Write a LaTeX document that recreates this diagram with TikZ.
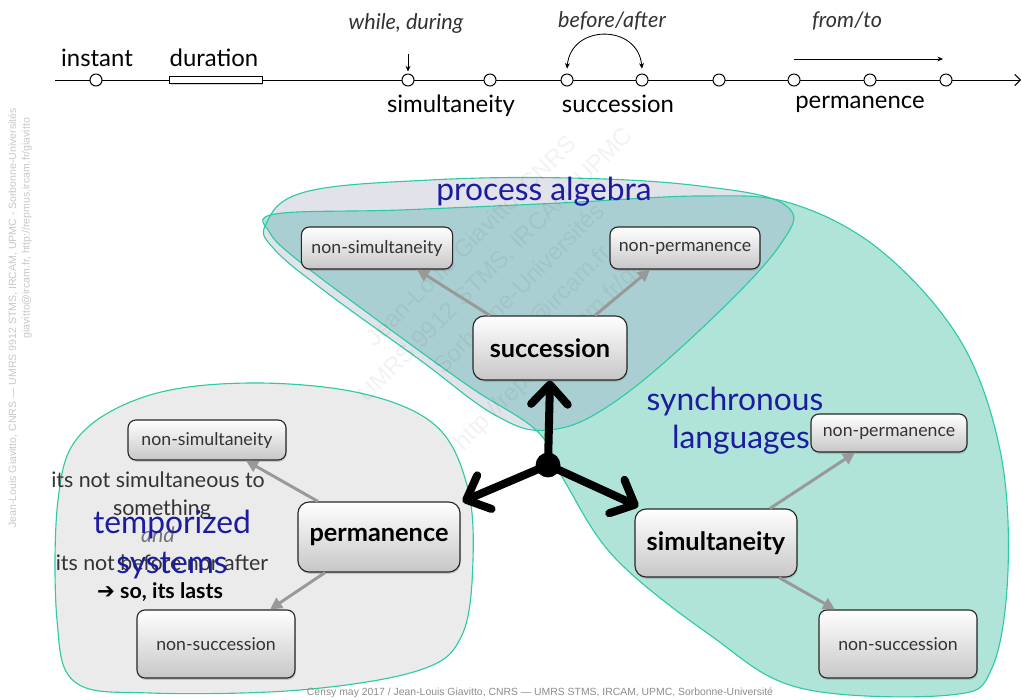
\documentclass[tikz,border=0pt]{standalone}
\usepackage{fontspec}
\setmainfont{Lato}
\newfontfamily\symfont{DejaVu Sans}
\newfontfamily\markfont{Liberation Sans}
\usetikzlibrary{arrows.meta,shadows}

\definecolor{blobline}{HTML}{2CCBA6}
\definecolor{pagray}{HTML}{E2E3EA}
\definecolor{synteal}{HTML}{B0E4D8}
\definecolor{overlap}{HTML}{AACFD2}
\definecolor{tempgray}{HTML}{EBEBEB}
\definecolor{labelblue}{HTML}{1C1CA0}
\definecolor{txt}{HTML}{333333}
\definecolor{arrgray}{HTML}{999999}

\tikzset{
  tick/.style={circle, draw, fill=white, line width=0.7pt, minimum size=0.3cm, inner sep=0pt},
  box/.style={draw=black!85, line width=0.8pt, rounded corners=0.2cm, top color=white,
    bottom color=black!22, text=txt, inner sep=0pt,
    drop shadow={opacity=0.35, shadow xshift=0.5pt, shadow yshift=-1.3pt}},
  minorbox/.style={box, font=\fontsize{12.6}{14}\selectfont},
  majorbox/.style={box, rounded corners=0.28cm, text=black, font=\bfseries\fontsize{18}{20}\selectfont},
  minorarrow/.style={draw=arrgray, line width=2.1pt, -{Triangle[length=8.5pt,width=8.5pt]}},
  mainarrow/.style={line width=5.7pt, -{Straight Barb[length=14pt,width=26pt,round]}},
  timelabel/.style={anchor=base, font=\fontsize{17}{20}\selectfont},
  relation/.style={anchor=base, text=txt, font=\itshape\fontsize{15.4}{18}\selectfont},
  family/.style={anchor=base, text=labelblue, font=\fontsize{22.6}{26}\selectfont},
  remark/.style={anchor=base, text=txt, font=\fontsize{15.2}{18}\selectfont},
  blob/.style={draw=blobline, line width=0.8pt}
}

\begin{document}
\begin{tikzpicture}[x=0.025cm, y=-0.025cm]
\useasboundingbox (0,0) rectangle (1022,699);

% regions
\path[save path=\tempblob] plot[smooth cycle, tension=0.6] coordinates {(58,500) (80,435) (150,395) (250,383) (360,393) (435,425) (467,485) (473,560) (462,635) (420,670) (300,690) (150,693) (75,682) (57,620)};
\path[save path=\pablob] plot[smooth cycle, tension=0.65] coordinates {(266,224) (305,192) (430,180) (570,178) (700,186) (785,205) (780,245) (700,330) (610,405) (548,430) (495,415) (420,360) (330,295) (275,250)};
\path[save path=\synblob] plot[smooth cycle, tension=0.6] coordinates {(275,214) (400,210) (560,203) (700,196) (790,203) (880,250) (960,340) (1000,450) (1008,570) (992,668) (950,695) (800,688) (710,635) (615,558) (565,482) (538,432) (470,387) (380,322) (300,262) (270,233)};

\fill[tempgray, use path=\tempblob];
\draw[blob, use path=\tempblob];
\fill[pagray, use path=\pablob];
\fill[synteal, use path=\synblob];
\begin{scope}
  \clip[use path=\pablob];
  \fill[overlap, use path=\synblob];
\end{scope}
\draw[blob, use path=\pablob];
\draw[blob, use path=\synblob];

% watermarks
\node[rotate=45, align=center, text=black, text opacity=0.05, font=\markfont\fontsize{17}{24}\selectfont] (wm) at (520,290)
  {Jean-Louis Giavitto, CNRS\\ UMRS 9912 STMS, IRCAM, UPMC\\ Sorbonne-Universités\\ giavitto@ircam.fr\\ http://repmus.ircam.fr/giavitto};
\node[rotate=90, anchor=east, text=black!22, font=\markfont\fontsize{7.5}{9}\selectfont] (wm1) at (13,103)
  {Jean-Louis Giavitto, CNRS — UMRS 9912 STMS, IRCAM, UPMC - Sorbonne-Universités};
\node[rotate=90, anchor=east, text=black!22, font=\markfont\fontsize{7.5}{9}\selectfont] (wm2) at (27,113)
  {giavitto@ircam.fr, http://repmus.ircam.fr/giavitto};
\node[anchor=base, text=black!45, font=\markfont\fontsize{7.4}{9}\selectfont] (foot) at (540,695)
  {Cerisy may 2017 / Jean-Louis Giavitto, CNRS — UMRS STMS, IRCAM, UPMC, Sorbonne-Université};

% time line
\coordinate (tl) at (55,80);
\coordinate (tr) at (1021,80);
\draw[line width=0.7pt, -{Straight Barb[length=4pt,width=8pt]}] (tl) -- (tr);
\foreach \x [count=\i] in {96,408,490,567,642,719,794,870,946}
  \node[tick] (t\i) at (\x,80) {};
\node[draw, fill=white, line width=0.7pt, minimum width=2.3cm, minimum height=0.175cm, inner sep=0pt,
  drop shadow={opacity=0.35, shadow xshift=0.5pt, shadow yshift=-1.2pt}] (dur) at (216,80) {};

\node[timelabel] (instant) at (97,66) {instant};
\node[timelabel] (duration) at (214,66) {duration};
\node[timelabel] (simlab) at (451,112) {simultaneity};
\node[timelabel] (suclab) at (618,112) {succession};
\node[timelabel] (perlab) at (860,108) {permanence};
\node[relation] (while) at (406,29) {while, during};
\node[relation] (before) at (612,27) {before/after};
\node[relation] (fromto) at (847,27) {from/to};

\draw[line width=0.6pt, -{Stealth[length=4pt,width=3.5pt]}] ([yshift=0.5cm]t2.north) -- ([yshift=0.05cm]t2.north);
\draw[line width=0.6pt, {Stealth[length=4pt,width=3.5pt]}-{Stealth[length=4pt,width=3.5pt]}]
  ([yshift=0.12cm]t4.north) .. controls +(4,-45) and +(-4,-45) .. ([yshift=0.12cm]t5.north);
\draw[line width=0.6pt, -{Stealth[length=4pt,width=3.5pt]}] ([yshift=0.525cm]t7.center) -- ([yshift=0.525cm,xshift=-0.075cm]t9.center);

% family labels
\node[family] (pa) at (544,200) {process algebra};
\node[family] (sl1) at (735,410) {synchronous};
\node[family] (sl2) at (741,448) {languages};

% remarks
\node[remark] (r1) at (158,487) {its not simultaneous to};
\node[remark] (r2) at (162,515) {something};
\node[remark, font=\itshape\fontsize{15.2}{18}\selectfont, text=black!55] (r3) at (158,542) {and};
\node[remark] (r4) at (162,570) {its not before nor after};
\node[remark, text=black, font=\bfseries\fontsize{15.2}{18}\selectfont] (r5) at (160,598) {{\symfont ➔} so, its lasts};

\node[family] (ts1) at (172,533) {temporized};
\node[family] (ts2) at (172,573) {systems};

% nodes
\node[majorbox, minimum width=3.85cm, minimum height=1.6cm] (S) at (550,348) {succession};
\node[minorbox, minimum width=3.78cm, minimum height=1.05cm] (nsT) at (377,248) {non-simultaneity};
\node[minorbox, minimum width=3.75cm, minimum height=1.05cm] (npT) at (685,248) {non-permanence};

\node[majorbox, minimum width=4.05cm, minimum height=1.75cm] (P) at (379,537) {permanence};
\node[minorbox, minimum width=3.95cm, minimum height=1.0cm] (nsL) at (207,440) {non-simultaneity};
\node[minorbox, minimum width=3.95cm, minimum height=1.7cm] (nuL) at (216,644) {non-succession};

\node[majorbox, minimum width=4.05cm, minimum height=1.7cm] (Si) at (716,543) {simultaneity};
\node[minorbox, minimum width=3.9cm, minimum height=0.95cm] (npR) at (889,433) {non-permanence};
\node[minorbox, minimum width=3.95cm, minimum height=1.7cm] (nuR) at (898,644) {non-succession};

\draw[minorarrow] ([xshift=-1.5cm]S.north) -- ([xshift=1cm]nsT.south);
\draw[minorarrow] ([xshift=1.125cm]S.north) -- ([xshift=-0.875cm]npT.south);
\draw[minorarrow] ([xshift=-1.525cm]P.north) -- ([xshift=0.975cm]nsL.south);
\draw[minorarrow] ([xshift=-1.35cm]P.south) -- ([xshift=1.35cm]nuL.north);
\draw[minorarrow] ([xshift=1.35cm]Si.north) -- ([xshift=-0.85cm]npR.south);
\draw[minorarrow] ([xshift=1.575cm]Si.south) -- ([xshift=-1.575cm]nuR.north);

% centre
\node[circle, fill=black, minimum size=0.62cm, inner sep=0pt] (c) at (548,465) {};
\draw[mainarrow] (c.center) -- (S.south);
\draw[mainarrow] (c.center) -- ([xshift=0.05cm]P.north east);
\draw[mainarrow] (c.center) -- ([xshift=0.1cm,yshift=0.05cm]Si.north west);

\end{tikzpicture}
\end{document}
